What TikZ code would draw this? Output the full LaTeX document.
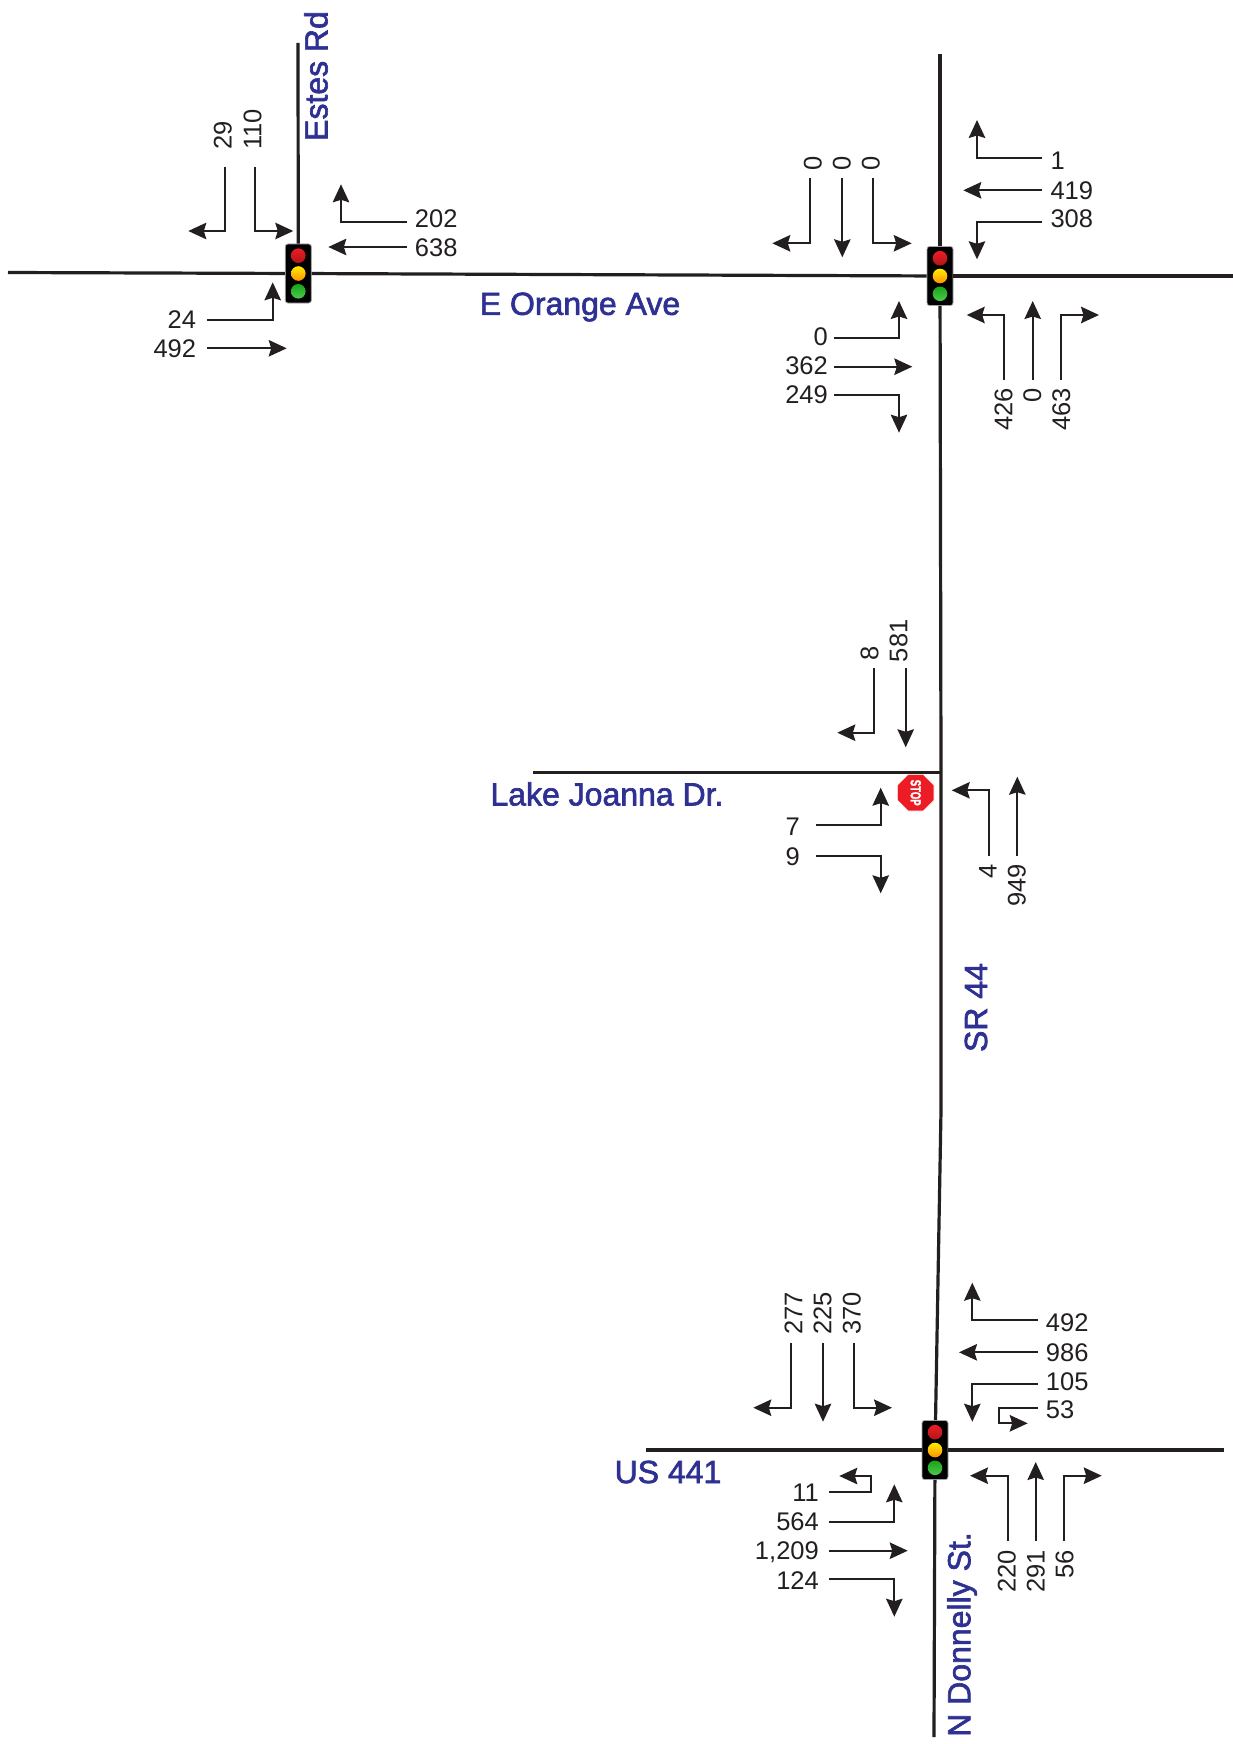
\documentclass[tikz,border=0pt]{standalone}
\usepackage{fontspec}
\setmainfont{Liberation Sans}
\newfontfamily\roadfont[FakeBold=2]{Liberation Sans}
\newfontfamily\stopfont[FakeBold=2]{Liberation Sans Bold}
\usepackage{xcolor}
\usepackage{graphicx}
\usetikzlibrary{arrows.meta,shapes.geometric}
\definecolor{inkblack}{HTML}{231F20}
\definecolor{roadblue}{HTML}{2E3192}
\definecolor{stopred}{HTML}{ED1C24}
\newcommand{\signal}[3]{%
  \node[housing] (#1) at (#2,#3) {};
  \node[lamp, top color=stopred, bottom color=stopred!75!black] (#1red) at ([yshift=17.8pt]#1.center) {};
  \node[lamp, top color=yellow!85!orange, bottom color=orange!85!yellow] (#1amber) at (#1.center) {};
  \node[lamp, top color=green!60!black!90, bottom color=green!70!black!70] (#1green) at ([yshift=-17.8pt]#1.center) {};
}

\begin{document}
\begin{tikzpicture}[
  x=1pt, y=-1pt,
  road/.style={draw=inkblack, line width=3.2pt},
  arr/.style={-{Stealth[length=18pt, width=16.5pt, inset=2.5pt]}, draw=inkblack, line width=1.9pt},
  cnt/.style={text=inkblack, font=\fontsize{25.5}{25.5}\selectfont, inner ysep=0pt, inner xsep=8pt, text height=18pt, text depth=0pt},
  cntup/.style={cnt, rotate=90, anchor=west},
  cntdown/.style={cnt, rotate=90, anchor=east},
  roadname/.style={text=roadblue, font=\roadfont\fontsize{32}{32}\selectfont, inner sep=0pt},
  housing/.style={draw=black!35, line width=0.8pt, fill=black, rounded corners=2.5pt, minimum width=26pt, minimum height=59pt, inner sep=0pt},
  lamp/.style={circle, minimum size=14.6pt, inner sep=0pt}
]
\useasboundingbox (0,0) rectangle (1233,1744);

\signal{lightEstes}{298.3}{273.5}
\signal{lightOrange}{940}{276}
\signal{lightDonnelly}{935}{1450}

\coordinate (orangeW) at (8,272.5);
\coordinate (orangeE) at (1233,276);
\coordinate (estesN) at (298,43);
\coordinate (srN) at (940,54);
\coordinate (srJoanna) at (941,772.7);
\coordinate (srBend) at (941,1110);
\coordinate (donnellyS) at (934,1737);
\coordinate (joannaW) at (533,772.7);
\coordinate (usW) at (646,1450);
\coordinate (usE) at (1224,1450);

\draw[road] (orangeW) -- (lightEstes);
\draw[road] (lightEstes) -- (lightOrange);
\draw[road] (lightOrange) -- (orangeE);
\draw[road] (estesN) -- (lightEstes);
\draw[road] (srN) -- (lightOrange);
\draw[road] (lightOrange) -- (srJoanna) -- (srBend) -- (lightDonnelly);
\draw[road] (lightDonnelly) -- (donnellyS);
\draw[road] (joannaW) -- (srJoanna);
\draw[road] (usW) -- (lightDonnelly);
\draw[road] (lightDonnelly) -- (usE);

\node[roadname, rotate=90] (nameEstes) at (316,76) {Estes Rd};
\node[roadname] (nameOrange) at (580,307) {E Orange Ave};
\node[roadname] (nameJoanna) at (607,794) {Lake Joanna Dr.};
\node[roadname, rotate=90] (nameSR) at (976,1007.5) {SR 44};
\node[roadname] (nameUS) at (668,1472) {US 441};
\node[roadname, rotate=90] (nameDonnelly) at (962,1634.5) {N Donnelly St.};

\node[regular polygon, regular polygon sides=8, minimum size=34pt, inner sep=0pt, fill=stopred, draw=white, line width=0.6pt, text=white, rotate=-90, font=\stopfont\fontsize{14.5}{14.5}\selectfont] (stopJoanna) at (915.7,792.7) {\scalebox{0.66}[1]{STOP}};

\coordinate (t29) at (188.3,231);
\coordinate (t110) at (293.3,231);
\coordinate (t202) at (341,184.3);
\coordinate (t638) at (328.3,247);
\coordinate (t24) at (272.7,282.3);
\coordinate (t492) at (286.7,348.3);
\node[cntup, inner xsep=17pt] (c29) at (222.7,166.7) {29};
\node[cntup, inner xsep=17pt] (c110) at (252.3,166.7) {110};
\node[cnt, anchor=west] (c202) at (406.7,218.3) {202};
\node[cnt, anchor=west] (c638) at (406.7,247) {638};
\node[cnt, anchor=east, inner xsep=11pt] (c24) at (207.3,319.6) {24};
\node[cnt, anchor=east, inner xsep=11pt] (c492) at (207.3,348.3) {492};
\draw[arr] ([xshift=2.3pt]c29.west) |- (t29);
\draw[arr] ([xshift=3pt]c110.west) |- (t110);
\draw[arr] ([yshift=-3.4pt]c202.west) -| (t202);
\draw[arr] (c638.west) -- (t638);
\draw[arr] (c24.east) -| (t24);
\draw[arr] (c492.east) -- (t492);

\coordinate (t0a) at (772.3,243.3);
\coordinate (t0b) at (842.3,257.3);
\coordinate (t0c) at (911.7,243.3);
\coordinate (t1) at (977,120);
\coordinate (t419) at (963.3,190.3);
\coordinate (t308) at (977,259.3);
\coordinate (t0d) at (899,301);
\coordinate (t362) at (912.3,366.7);
\coordinate (t249) at (899,432.7);
\coordinate (t426) at (966.7,315);
\coordinate (t0e) at (1032.7,301);
\coordinate (t463) at (1099,315);
\node[cntup] (c0a) at (812.7,178.3) {0};
\node[cntup] (c0b) at (841.7,178.3) {0};
\node[cntup] (c0c) at (870.7,178.3) {0};
\node[cnt, anchor=west] (c1) at (1042.3,160.7) {1};
\node[cnt, anchor=west] (c419) at (1042.3,190.3) {419};
\node[cnt, anchor=west] (c308) at (1042.3,219) {308};
\node[cnt, anchor=east, inner xsep=6pt] (c0d) at (834,336) {0};
\node[cnt, anchor=east, inner xsep=6pt] (c362) at (834,365) {362};
\node[cnt, anchor=east, inner xsep=6pt] (c249) at (834,394) {249};
\node[cntdown] (c426) at (1003.3,380) {426};
\node[cntdown] (c0e) at (1032,380) {0};
\node[cntdown] (c463) at (1061,380) {463};
\draw[arr] ([xshift=-2.7pt]c0a.west) |- (t0a);
\draw[arr] ([xshift=0.6pt]c0b.west) -- (t0b);
\draw[arr] ([xshift=2.6pt]c0c.west) |- (t0c);
\draw[arr] ([yshift=3pt]c1.west) -| (t1);
\draw[arr] (c419.west) -- (t419);
\draw[arr] ([yshift=-2.7pt]c308.west) -| (t308);
\draw[arr] ([yshift=-2.3pt]c0d.east) -| (t0d);
\draw[arr] ([yshift=-1.7pt]c362.east) -- (t362);
\draw[arr] ([yshift=-1pt]c249.east) -| (t249);
\draw[arr] ([xshift=1pt]c426.east) |- (t426);
\draw[arr] ([xshift=0.7pt]c0e.east) -- (t0e);
\draw[arr] (c463.east) |- (t463);

\coordinate (t8) at (837.3,732.7);
\coordinate (t581) at (905.7,747.3);
\coordinate (t4) at (951.7,790.3);
\coordinate (t949) at (1017.3,776.7);
\coordinate (t7) at (880.7,787.7);
\coordinate (t9) at (880.7,893.3);
\node[cntup] (c8) at (869.3,668.3) {8};
\node[cntup, inner xsep=6pt] (c581) at (898.3,668.3) {581};
\node[cntdown, inner xsep=8pt] (c4) at (987.7,855.7) {4};
\node[cntdown, inner xsep=8pt] (c949) at (1016.7,855.7) {949};
\node[cnt, anchor=east, inner xsep=16pt] (c7) at (816,826.7) {7};
\node[cnt, anchor=east, inner xsep=16pt] (c9) at (816,856) {9};
\draw[arr] ([xshift=5pt]c8.west) |- (t8);
\draw[arr] ([xshift=7.4pt]c581.west) -- (t581);
\draw[arr] ([xshift=1.3pt]c4.east) |- (t4);
\draw[arr] ([xshift=0.6pt]c949.east) -- (t949);
\draw[arr] ([yshift=1.7pt]c7.east) -| (t7);
\draw[arr] (c9.east) -| (t9);

\coordinate (t277) at (753.3,1407.7);
\coordinate (t225) at (823,1421.7);
\coordinate (t370) at (892,1407.7);
\coordinate (t492b) at (972.3,1282.7);
\coordinate (t986) at (959,1352.3);
\coordinate (t105) at (972.3,1421.7);
\coordinate (u53) at (999.3,1423.3);
\coordinate (t53) at (1027.7,1423.3);
\coordinate (u11) at (871,1476);
\coordinate (t11) at (839.3,1476);
\coordinate (t564) at (894.3,1484.3);
\coordinate (t1209) at (907.7,1550.7);
\coordinate (t124) at (894.3,1616.7);
\coordinate (t220) at (970,1475.7);
\coordinate (t291) at (1035.7,1462);
\coordinate (t56) at (1101.7,1475.7);
\node[cntup] (c277) at (793.3,1342.7) {277};
\node[cntup] (c225) at (822.3,1342.7) {225};
\node[cntup] (c370) at (851.7,1342.7) {370};
\node[cnt, anchor=west] (c492b) at (1037.7,1322.7) {492};
\node[cnt, anchor=west] (c986) at (1037.7,1352.3) {986};
\node[cnt, anchor=west] (c105) at (1037.7,1381) {105};
\node[cnt, anchor=west] (c53) at (1037.7,1409.3) {53};
\node[cnt, anchor=east, inner xsep=10pt] (c11) at (829,1492.7) {11};
\node[cnt, anchor=east, inner xsep=10pt] (c564) at (829,1521.7) {564};
\node[cnt, anchor=east, inner xsep=10pt] (c1209) at (829,1550.7) {1,209};
\node[cnt, anchor=east, inner xsep=10pt] (c124) at (829,1580) {124};
\node[cntdown, inner xsep=9pt] (c220) at (1006.7,1541) {220};
\node[cntdown, inner xsep=9pt] (c291) at (1035.7,1541) {291};
\node[cntdown, inner xsep=9pt] (c56) at (1064.3,1541) {56};
\draw[arr] ([xshift=-2.6pt]c277.west) |- (t277);
\draw[arr] ([xshift=0.7pt]c225.west) -- (t225);
\draw[arr] ([xshift=2.3pt]c370.west) |- (t370);
\draw[arr] ([yshift=2.7pt]c492b.west) -| (t492b);
\draw[arr] (c986.west) -- (t986);
\draw[arr] ([yshift=-2.7pt]c105.west) -| (t105);
\draw[arr] ([yshift=1.6pt]c53.west) -| (u53) -- (t53);
\draw[arr] ([yshift=1pt]c11.east) -| (u11) -- (t11);
\draw[arr] (c564.east) -| (t564);
\draw[arr] (c1209.east) -- (t1209);
\draw[arr] ([yshift=1pt]c124.east) -| (t124);
\draw[arr] ([xshift=1pt]c220.east) |- (t220);
\draw[arr] (c291.east) -- (t291);
\draw[arr] (c56.east) |- (t56);

\end{tikzpicture}
\end{document}
